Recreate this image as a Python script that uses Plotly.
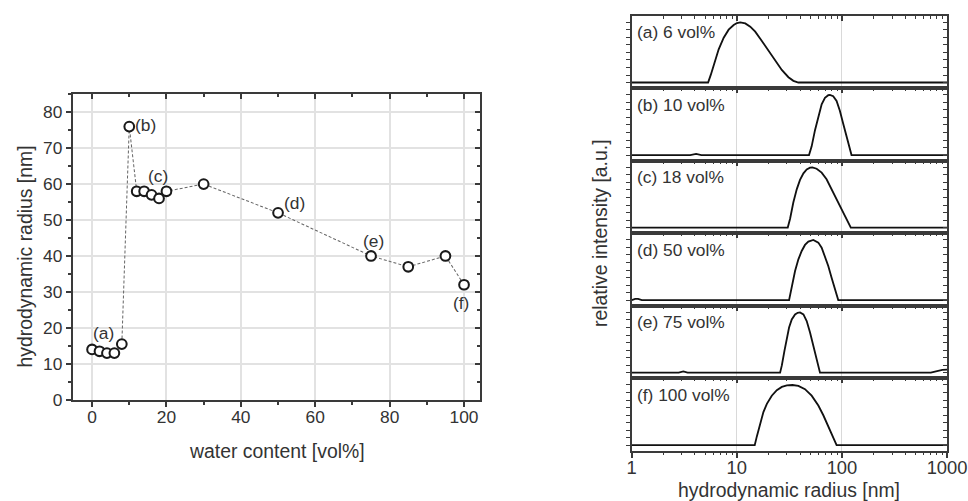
import plotly.graph_objects as go

# design grid in pixels; the canvas is enlarged slightly by S
W, H = 968, 501
S = 1 / 0.979
FIG_W, FIG_H = round(W * S), round(H * S)

# ---- hydrodynamic radius vs. water content ----
water_content = [0, 2, 4, 6, 8, 10, 12, 14, 16, 18, 20, 30, 50, 75, 85, 95, 100]
radius_nm = [14, 13.5, 13, 13, 15.5, 76, 58, 58, 57, 56, 58, 60, 52, 40, 37, 40, 32]

point_labels = ["(a)", "(b)", "(c)", "(d)", "(e)", "(f)"]
point_label_x = [3, 14.5, 17.6, 54.4, 75.6, 99.3]
point_label_y = [18.6, 76.3, 62.2, 54.7, 44.2, 26.8]

# ---- size distributions (radius in nm, normalised intensity) ----
panel_titles = ["(a) 6 vol%", "(b) 10 vol%", "(c) 18 vol%",
                "(d) 50 vol%", "(e) 75 vol%", "(f) 100 vol%"]

dist_a_r = [1, 5.33, 5.65, 6.03, 6.72, 7.50, 8.36, 9.33, 10.03, 10.79, 12.03, 13.42,
            14.96, 17.30, 20.01, 23.14, 26.77, 30.96, 34.53, 38.51, 1000]
dist_a_i = [0, 0, 0.127, 0.293, 0.552, 0.746, 0.878, 0.956, 0.989, 1.0, 0.983, 0.928,
            0.845, 0.691, 0.525, 0.359, 0.210, 0.088, 0.028, 0, 0]

dist_b_r = [1, 3.6, 4.1, 4.6, 48.6, 51.5, 55.4, 59.6, 64.1, 68.9, 74.1, 76.8, 82.6,
            88.9, 95.5, 102.8, 110.5, 118.8, 123.3, 1000]
dist_b_i = [0, 0, 0.02, 0, 0, 0.145, 0.414, 0.656, 0.844, 0.952, 0.995, 1.0, 0.978,
            0.898, 0.737, 0.522, 0.306, 0.091, 0, 0]

dist_c_r = [1, 30.5, 32.1, 34.5, 37.2, 39.9, 43.0, 46.2, 49.7, 52.3, 57.4, 64.1, 71.4,
            79.7, 88.9, 99.1, 110.5, 121.4, 1000]
dist_c_i = [0, 0, 0.148, 0.421, 0.639, 0.792, 0.902, 0.967, 0.995, 1.0, 0.978, 0.913,
            0.803, 0.639, 0.475, 0.311, 0.148, 0, 0]

dist_d_r = [1, 1.08, 1.15, 1.25, 31.4, 33.3, 35.8, 38.5, 41.4, 44.5, 47.9, 53.4, 59.6,
            64.1, 68.9, 74.1, 79.7, 85.7, 92.2, 1000]
dist_d_i = [0, 0.02, 0.02, 0, 0, 0.206, 0.483, 0.678, 0.817, 0.917, 0.972, 1.0, 0.956,
            0.872, 0.733, 0.567, 0.372, 0.178, 0, 0]

dist_e_r = [1, 2.8, 3.1, 3.4, 25.8, 26.8, 28.4, 29.9, 31.4, 33.3, 35.8, 37.9, 39.9,
            43.0, 46.2, 49.7, 53.4, 57.4, 61.8, 700, 800, 900, 1000]
dist_e_i = [0, 0, 0.02, 0, 0, 0.12, 0.366, 0.585, 0.749, 0.885, 0.967, 0.995, 1.0,
            0.967, 0.858, 0.667, 0.448, 0.202, 0, 0, 0.025, 0.045, 0.05]

dist_f_r = [1, 14.8, 15.5, 16.7, 17.9, 19.3, 21.5, 24.0, 26.8, 29.9, 33.8, 38.5, 44.5,
            51.5, 59.6, 66.5, 74.1, 80.9, 88.9, 1000]
dist_f_i = [0, 0, 0.146, 0.362, 0.551, 0.686, 0.822, 0.914, 0.968, 0.995, 1.0, 0.984,
            0.930, 0.822, 0.659, 0.497, 0.308, 0.146, 0, 0]

dist_r = [dist_a_r, dist_b_r, dist_c_r, dist_d_r, dist_e_r, dist_f_r]
dist_i = [dist_a_i, dist_b_i, dist_c_i, dist_d_i, dist_e_i, dist_f_i]

major_r = [1, 10, 100, 1000]
minor_r = [m * d for d in (1, 10, 100) for m in range(2, 10)]

# ---- styling ----
FONT = "Liberation Sans, Arial, sans-serif"
TXT = "#333333"
AX = "#3a3a3a"
GRID = "#e2e2e2"


def fx(px):
    return px / W


def fy(py):
    return 1 - py / H


def sz(v):
    return v * S


fig = go.Figure()

# left panel: dashed guide + open markers
fig.add_trace(go.Scatter(
    x=water_content, y=radius_nm, mode="lines",
    line=dict(color="#666666", width=sz(1), dash="3px,2px"),
    xaxis="x", yaxis="y", showlegend=False, hoverinfo="skip"))
fig.add_trace(go.Scatter(
    x=water_content, y=radius_nm, mode="markers",
    marker=dict(symbol="circle", size=sz(9.5), color="white",
                line=dict(color="#1a1a1a", width=sz(2))),
    xaxis="x", yaxis="y", showlegend=False))
# carriers for the inward-tick overlay axes
fig.add_trace(go.Scatter(x=[], y=[], xaxis="x9", yaxis="y", showlegend=False))
fig.add_trace(go.Scatter(x=[], y=[], xaxis="x", yaxis="y9", showlegend=False))

xl_dom = [fx(68), fx(477)]
yl_dom = [fy(399), fy(94)]
xrange_l = [-5.2, 104.3]
yrange_l = [0, 85]

layout = dict(
    width=FIG_W, height=FIG_H, autosize=False,
    margin=dict(l=0, r=0, t=0, b=0, pad=0),
    paper_bgcolor="white", plot_bgcolor="white",
    font=dict(family=FONT, color=TXT),
    showlegend=False,
)

tick_font = dict(size=sz(17), color=TXT)

layout["xaxis"] = dict(
    domain=xl_dom, range=xrange_l, anchor="y",
    tick0=0, dtick=20, ticks="outside", ticklen=sz(5), tickwidth=sz(1.5), tickcolor=AX,
    minor=dict(dtick=10, tick0=0, ticks="outside", ticklen=sz(3), tickwidth=sz(1.5),
               tickcolor=AX, showgrid=False),
    showgrid=True, gridcolor=GRID, gridwidth=sz(1.5), zeroline=False,
    showline=True, linecolor=AX, linewidth=sz(1.5), mirror=True,
    tickfont=tick_font, ticklabelstandoff=-5)
layout["yaxis"] = dict(
    domain=yl_dom, range=yrange_l, anchor="x",
    tick0=0, dtick=10, ticks="outside", ticklen=sz(5), tickwidth=sz(1.5), tickcolor=AX,
    minor=dict(dtick=5, tick0=0, ticks="outside", ticklen=sz(3), tickwidth=sz(1.5),
               tickcolor=AX, showgrid=False),
    showgrid=True, gridcolor=GRID, gridwidth=sz(1.5), zeroline=False,
    showline=True, linecolor=AX, linewidth=sz(1.5), mirror=True,
    tickfont=tick_font, ticklabelstandoff=0)
layout["xaxis9"] = dict(
    overlaying="x", side="top", anchor="y", range=xrange_l,
    tick0=0, dtick=20, ticks="inside", ticklen=sz(5), tickwidth=sz(1.5), tickcolor=AX,
    minor=dict(dtick=10, tick0=0, ticks="inside", ticklen=sz(3), tickwidth=sz(1.5),
               tickcolor=AX, showgrid=False),
    showticklabels=False, showgrid=False, zeroline=False, showline=False)
layout["yaxis9"] = dict(
    overlaying="y", side="right", anchor="x", range=yrange_l,
    tick0=0, dtick=10, ticks="inside", ticklen=sz(5), tickwidth=sz(1.5), tickcolor=AX,
    minor=dict(dtick=5, tick0=0, ticks="inside", ticklen=sz(3), tickwidth=sz(1.5),
               tickcolor=AX, showgrid=False),
    showticklabels=False, showgrid=False, zeroline=False, showline=False)

annotations = []
for t, lx, ly in zip(point_labels, point_label_x, point_label_y):
    annotations.append(dict(x=lx, y=ly, xref="x", yref="y", text=t, showarrow=False,
                            xanchor="center", yanchor="middle",
                            font=dict(size=sz(17), color=TXT)))

annotations.append(dict(x=fx(273), y=fy(450), xref="paper", yref="paper",
                        xanchor="center", yanchor="middle",
                        text="water content [vol%]", showarrow=False,
                        font=dict(size=sz(19), color=TXT)))
annotations.append(dict(x=fx(20), y=fy(256), xref="paper", yref="paper",
                        xanchor="center", yanchor="middle",
                        text="hydrodynamic radius [nm]", showarrow=False, textangle=-90,
                        font=dict(size=sz(19), color=TXT)))

# ---- right: stacked distributions on a log radius axis ----
xr_dom = [fx(629.3), fx(946)]
top_px, bot_px = 15.7, 450.0
ph = (bot_px - top_px) / 6
yrange_r = [-0.095, 1.11]

for k in range(6):
    i = k + 2
    p_top = top_px + k * ph
    p_bot = p_top + ph
    fig.add_trace(go.Scatter(
        x=dist_r[k], y=dist_i[k], mode="lines",
        line=dict(color="#111111", width=sz(1.8)),
        xaxis=f"x{i}", yaxis=f"y{i}", showlegend=False))
    fig.add_trace(go.Scatter(x=[], y=[], xaxis=f"x{i}", yaxis=f"y{i + 10}",
                             showlegend=False))
    layout[f"xaxis{i}"] = dict(
        domain=xr_dom, type="log", range=[0, 3], anchor=f"y{i}", side="top",
        tickmode="array", tickvals=major_r, ticks="inside", ticklen=sz(5),
        tickwidth=sz(1.5), tickcolor=AX,
        minor=dict(tickmode="array", tickvals=minor_r, ticks="inside", ticklen=sz(3),
                   tickwidth=sz(1.2), tickcolor=AX, showgrid=False),
        showticklabels=False, showgrid=True, gridcolor="#d9d9d9", gridwidth=sz(1.2),
        zeroline=False, showline=True, linecolor=AX, linewidth=sz(1.5), mirror=True)
    layout[f"yaxis{i}"] = dict(
        domain=[fy(p_bot), fy(p_top)], range=yrange_r, anchor=f"x{i}",
        tick0=0, dtick=0.125, ticks="outside", ticklen=sz(4), tickwidth=sz(1.2),
        tickcolor=AX, showticklabels=False, showgrid=False, zeroline=False,
        showline=True, linecolor=AX, linewidth=sz(1.5), mirror=True)
    layout[f"yaxis{i + 10}"] = dict(
        overlaying=f"y{i}", side="right", anchor=f"x{i}", range=yrange_r,
        tick0=0, dtick=0.125, ticks="inside", ticklen=sz(4), tickwidth=sz(1.2),
        tickcolor=AX, showticklabels=False, showgrid=False, zeroline=False,
        showline=False)
    annotations.append(dict(
        x=0.012, y=1 - 16.5 / ph, xref=f"x{i} domain", yref=f"y{i} domain",
        xanchor="left", yanchor="middle", text=panel_titles[k], showarrow=False,
        font=dict(size=sz(17), color=TXT)))

# labelled bottom axis of the lowest distribution panel
fig.add_trace(go.Scatter(x=[], y=[], xaxis="x8", yaxis="y7", showlegend=False))
layout["xaxis8"] = dict(
    overlaying="x7", side="bottom", anchor="y7", type="log", range=[0, 3],
    tickmode="array", tickvals=major_r, ticktext=[str(v) for v in major_r],
    ticks="outside", ticklen=sz(6), tickwidth=sz(1.5), tickcolor=AX,
    minor=dict(tickmode="array", tickvals=minor_r, ticks="outside", ticklen=sz(3),
               tickwidth=sz(1.2), tickcolor=AX, showgrid=False),
    showgrid=False, zeroline=False, showline=False,
    tickfont=dict(size=sz(18), color=TXT), ticklabelstandoff=-6)

annotations.append(dict(x=fx(787.7), y=fy(489.5), xref="paper", yref="paper",
                        xanchor="center", yanchor="middle",
                        text="hydrodynamic radius [nm]", showarrow=False,
                        font=dict(size=sz(19), color=TXT)))
annotations.append(dict(x=fx(598), y=fy(233), xref="paper", yref="paper",
                        xanchor="center", yanchor="middle",
                        text="relative intensity [a.u.]", showarrow=False, textangle=-90,
                        font=dict(size=sz(19), color=TXT)))

layout["annotations"] = annotations
fig.update_layout(**layout)

fig.write_html("out.html")
